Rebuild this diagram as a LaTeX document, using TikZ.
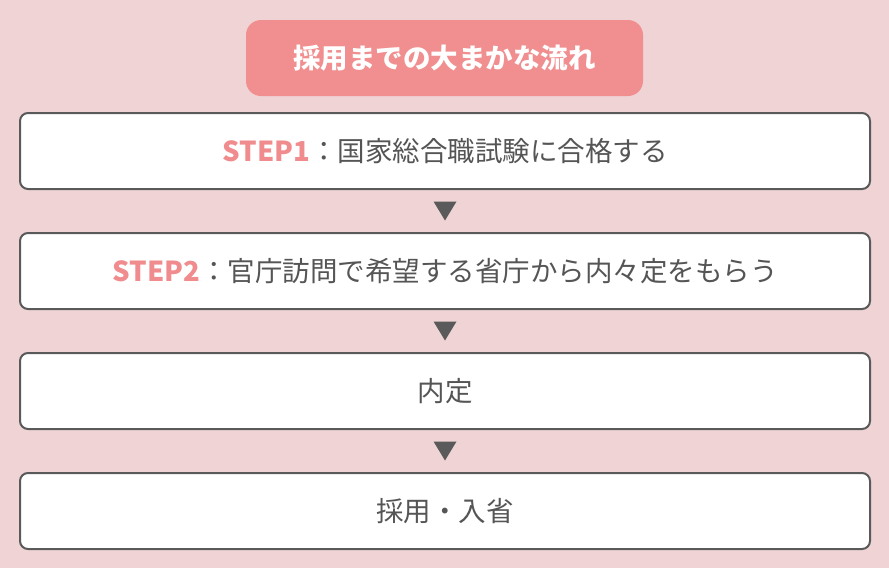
\documentclass[tikz,border=0pt]{standalone}
\usepackage{fontspec}
\setmainfont{Noto Sans CJK JP}
\definecolor{bgpink}{HTML}{EFD3D5}
\definecolor{titlepink}{HTML}{F18E8F}
\definecolor{steppink}{HTML}{F08C8E}
\definecolor{textgray}{HTML}{555555}
\definecolor{linegray}{HTML}{5A5A5A}
\newcommand{\steplabel}[1]{\textcolor{steppink}{\bfseries #1}}
\begin{document}
\begin{tikzpicture}[x=1pt, y=-1pt,
	  titlebox/.style={fill=titlepink, rounded corners=15pt, minimum width=397pt, minimum height=76pt, text=white, font=\fontsize{27.5}{32}\selectfont\bfseries, inner sep=0pt},
	  stepbox/.style={draw=linegray, line width=2pt, fill=white, rounded corners=8pt, minimum width=850pt, minimum height=76pt, text=textgray, font=\fontsize{27.5}{32}\selectfont, inner sep=0pt},
	  downmark/.style={fill=linegray}]
	  \fill[bgpink] (0,0) rectangle (889,568);
	  \node[titlebox] (title) at (444.5,58) {採用までの大まかな流れ};
	  \node[stepbox] (step1) at (445,151) {\steplabel{STEP1}：国家総合職試験に合格する};
	  \node[stepbox] (step2) at (445,271) {\steplabel{STEP2}：官庁訪問で希望する省庁から内々定をもらう};
	  \node[stepbox] (naitei) at (445,391) {内定};
	  \node[stepbox] (saiyo) at (445,511) {採用・入省};
	  % triangles between the boxes
	  \foreach \a/\b in {step1/step2, step2/naitei, naitei/saiyo} {
	    \path (\a.south) -- (\b.north) coordinate[pos=0.5] (m);
	    \fill[downmark] ([xshift=-11.5pt, yshift=9.5pt]m) -- ([xshift=11.5pt, yshift=9.5pt]m) -- ([yshift=-9.5pt]m) -- cycle;
	  }
	\end{tikzpicture}
\end{document}
